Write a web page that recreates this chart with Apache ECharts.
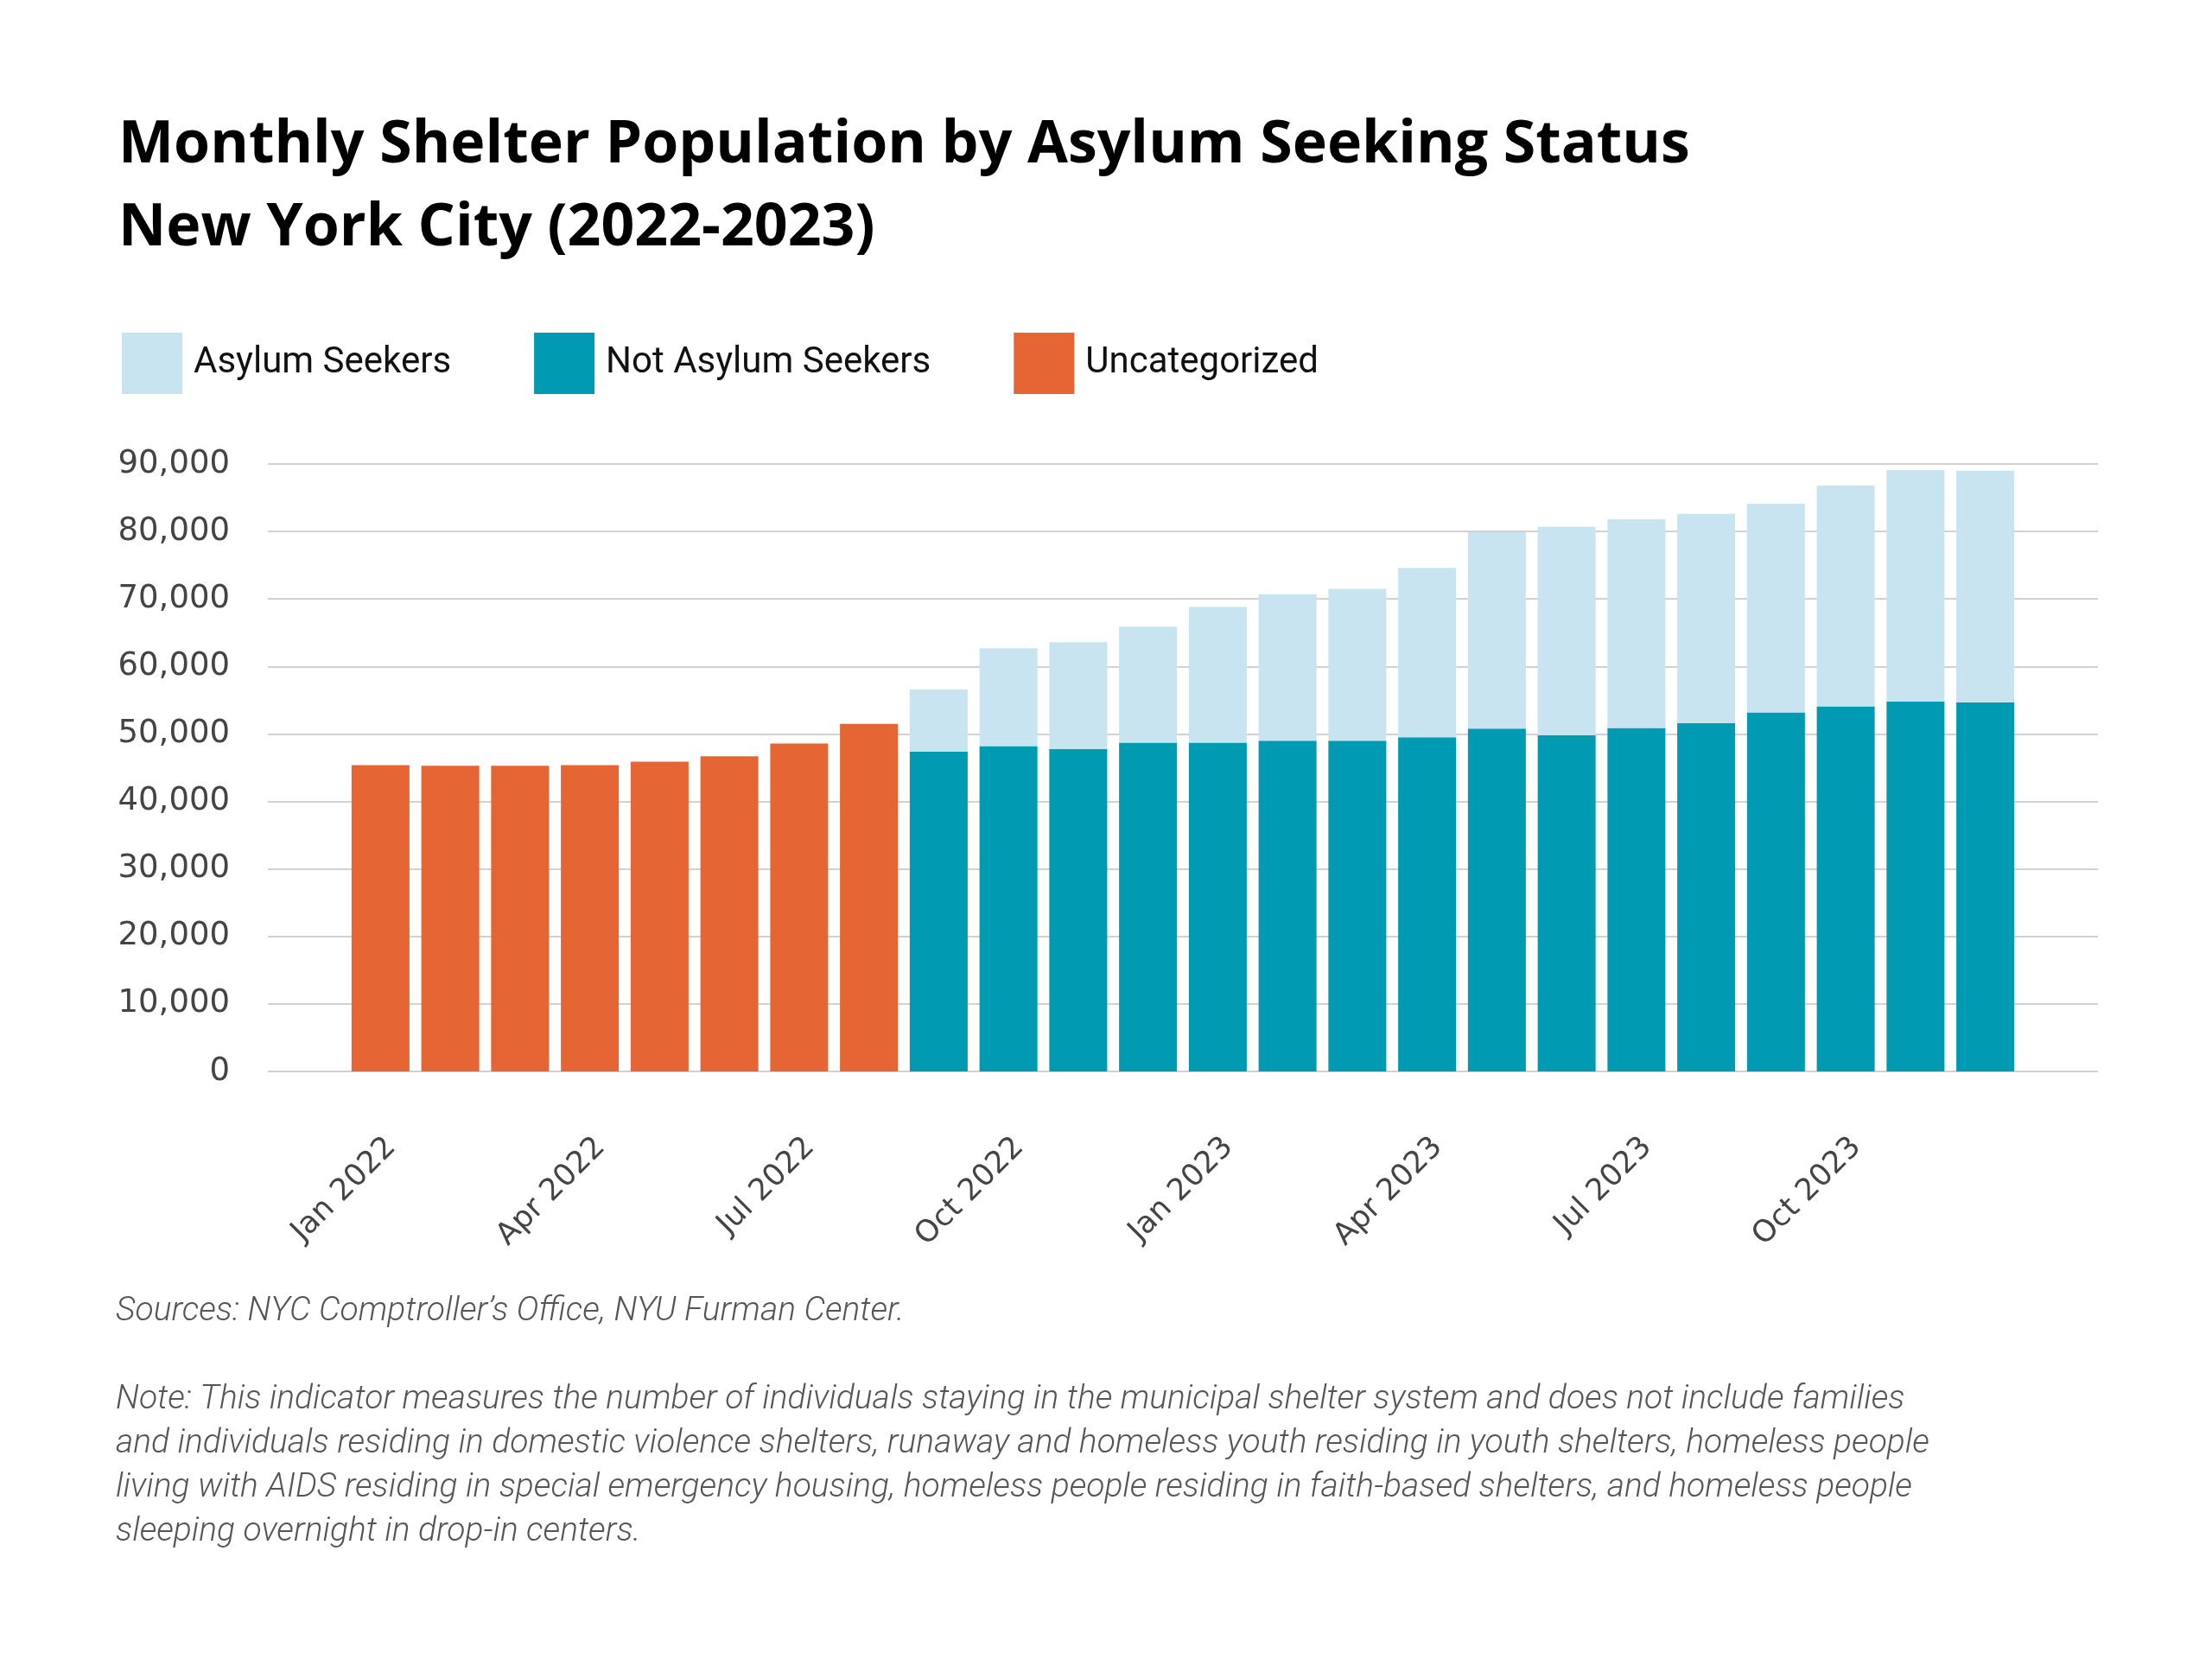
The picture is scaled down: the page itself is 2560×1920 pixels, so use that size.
<!DOCTYPE html>
<html>
<head>
<meta charset="utf-8">
<title>Monthly Shelter Population by Asylum Seeking Status</title>
<script src="https://cdn.jsdelivr.net/npm/echarts@6/dist/echarts.min.js"></script>
<style>
	html, body { margin: 0; padding: 0; background: #fff; }
	#chart { width: 2560px; height: 1920px; }
</style>
</head>
<body>
<div id="chart"></div>
<script>
var months = ['Jan 2022', 'Feb 2022', 'Mar 2022', 'Apr 2022', 'May 2022', 'Jun 2022',
	'Jul 2022', 'Aug 2022', 'Sep 2022', 'Oct 2022', 'Nov 2022', 'Dec 2022',
	'Jan 2023', 'Feb 2023', 'Mar 2023', 'Apr 2023', 'May 2023', 'Jun 2023',
	'Jul 2023', 'Aug 2023', 'Sep 2023', 'Oct 2023', 'Nov 2023', 'Dec 2023'];

// Jan-Aug 2022 have no asylum split
var uncategorized = [45400, 45300, 45300, 45400, 45900, 46700, 48600, 51500,
	null, null, null, null, null, null, null, null,
	null, null, null, null, null, null, null, null];
var notAsylumSeekers = [null, null, null, null, null, null, null, null,
	47400, 48200, 47800, 48700, 48700, 49000, 49000, 49500,
	50800, 49800, 50900, 51600, 53200, 54100, 54800, 54700];
var asylumSeekers = [null, null, null, null, null, null, null, null,
	9200, 14500, 15800, 17200, 20100, 21700, 22500, 25100,
	29100, 30900, 30900, 31000, 30900, 32700, 34300, 34300];

var yTicks = { min: 0, max: 90000, interval: 10000 };

var noteLines = [
	'Note: This indicator measures the number of individuals staying in the municipal shelter system and does not include families',
	'and individuals residing in domestic violence shelters, runaway and homeless youth residing in youth shelters, homeless people',
	'living with AIDS residing in special emergency housing, homeless people residing in faith-based shelters, and homeless people',
	'sleeping overnight in drop-in centers.'
];

function thousands(v) {
	return String(v).replace(/\B(?=(\d{3})+(?!\d))/g, ',');
}

var option = {
	animation: false,
	backgroundColor: '#ffffff',
	title: {
		text: 'Monthly Shelter Population by Asylum Seeking Status\nNew York City (2022-2023)',
		left: 132,
		top: 116,
		textStyle: {
			color: '#000',
			fontFamily: 'Open Sans',
			fontWeight: 'bold',
			fontSize: 68,
			lineHeight: 96
		}
	},
	legend: {
		data: ['Asylum Seekers', 'Not Asylum Seekers', 'Uncategorized'],
		left: 136,
		top: 380,
		icon: 'rect',
		itemWidth: 70,
		itemHeight: 71,
		itemGap: 96,
		textStyle: {
			color: '#111',
			fontFamily: 'Roboto',
			fontSize: 42,
			padding: [0, 0, 0, 8]
		}
	},
	grid: [{
		// bars
		left: 400,
		right: 222,
		top: 537,
		bottom: 680,
		containLabel: false
	}, {
		// gridlines run wider than the bars
		left: 310,
		right: 132,
		top: 537,
		bottom: 680,
		containLabel: false
	}],
	xAxis: [{
		type: 'category',
		gridIndex: 0,
		data: months,
		axisTick: { show: false },
		axisLine: { show: false },
		splitLine: { show: false },
		axisLabel: {
			interval: 2,
			rotate: 45,
			margin: 70,
			verticalAlign: 'top',
			color: '#444',
			fontFamily: 'DejaVu Sans',
			fontSize: 35
		}
	}, {
		type: 'value',
		gridIndex: 1,
		show: false
	}],
	yAxis: [{
		type: 'value',
		gridIndex: 0,
		min: yTicks.min,
		max: yTicks.max,
		interval: yTicks.interval,
		show: false
	}, {
		type: 'value',
		gridIndex: 1,
		min: yTicks.min,
		max: yTicks.max,
		interval: yTicks.interval,
		axisTick: { show: false },
		axisLine: { show: false },
		axisLabel: {
			margin: 44,
			color: '#444',
			fontFamily: 'DejaVu Sans',
			fontSize: 37,
			formatter: thousands
		},
		splitLine: {
			show: true,
			lineStyle: { color: '#d2d2d2', width: 2 }
		}
	}],
	series: [{
		name: 'Uncategorized',
		type: 'bar',
		stack: 'total',
		barCategoryGap: '17%',
		itemStyle: { color: '#E56535' },
		data: uncategorized
	}, {
		name: 'Not Asylum Seekers',
		type: 'bar',
		stack: 'total',
		barCategoryGap: '17%',
		itemStyle: { color: '#009AB3' },
		data: notAsylumSeekers
	}, {
		name: 'Asylum Seekers',
		type: 'bar',
		stack: 'total',
		barCategoryGap: '17%',
		itemStyle: { color: '#C8E4F0' },
		data: asylumSeekers
	}],
	graphic: [{
		type: 'text',
		left: 134,
		top: 1499,
		style: {
			text: 'Sources: NYC Comptroller\u2019s Office, NYU Furman Center.',
			fill: '#555',
			font: 'italic 300 39px Roboto'
		}
	}, {
		type: 'text',
		left: 134,
		top: 1595,
		style: {
			text: noteLines.join('\n'),
			fill: '#555',
			font: 'italic 300 39px Roboto',
			lineHeight: 51
		}
	}]
};

echarts.init(document.getElementById('chart')).setOption(option);
</script>
</body>
</html>
